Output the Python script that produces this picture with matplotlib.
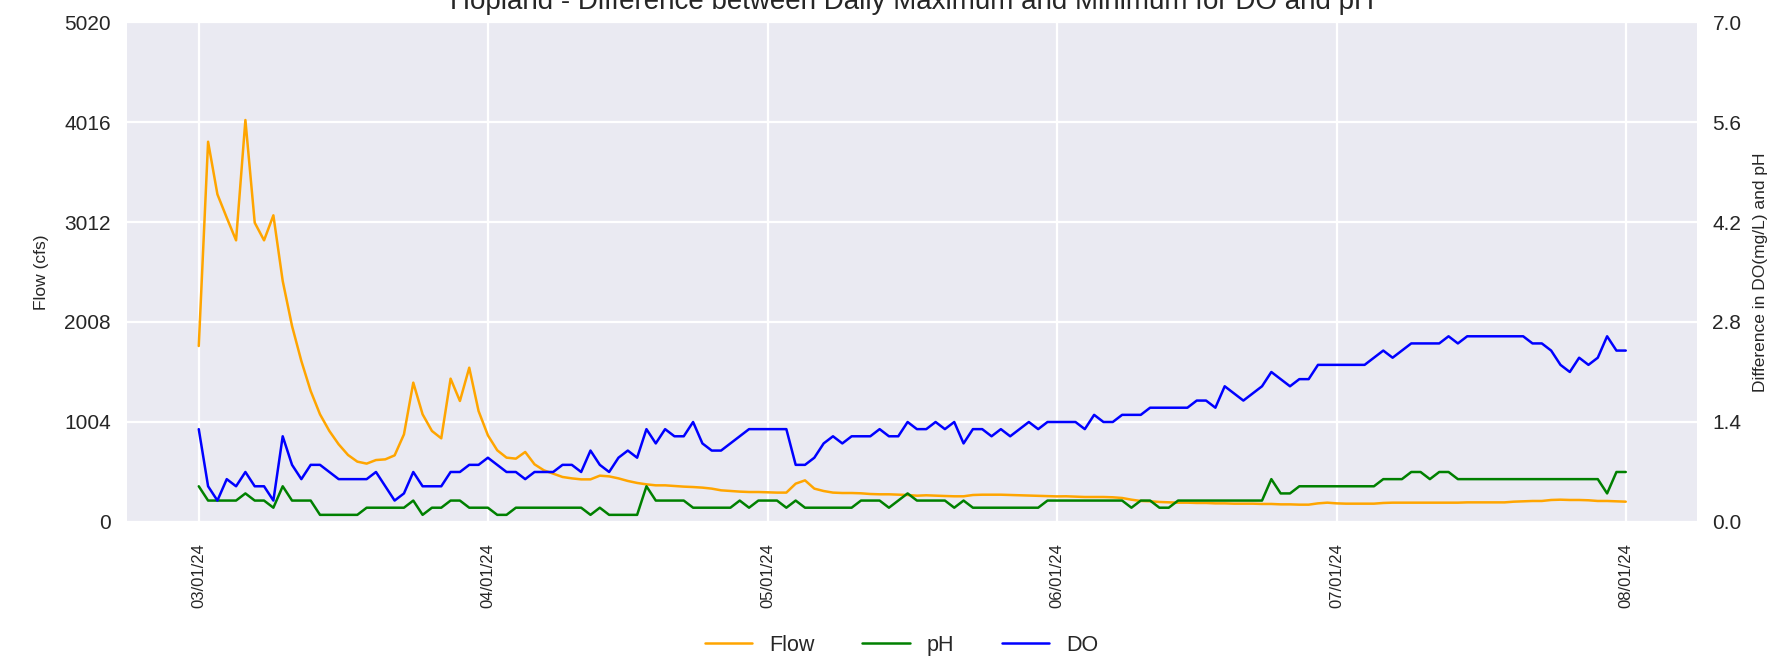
import numpy as np
import pandas as pd
import matplotlib
matplotlib.use("Agg")
import matplotlib.pyplot as plt
import matplotlib.dates as mdates

plt.style.use("seaborn-v0_8-darkgrid")
plt.rcParams["font.family"] = ["Liberation Sans", "DejaVu Sans"]
plt.rcParams["grid.linewidth"] = 1.6

# daily values, 03/01/24 .. 08/01/24
start_date = "2024-03-01"
end_date = "2024-08-01"

flow = [
    1767, 3818, 3290, 3055, 2828, 4036, 3005, 2828, 3079, 2420,
    1968, 1616, 1315, 1081, 914, 780, 673, 606, 586, 622,
    629, 669, 880, 1399, 1081, 914, 840, 1439, 1215, 1549,
    1114, 870, 720, 646, 636, 703, 579, 519, 485, 452,
    438, 428, 428, 465, 458, 438, 412, 392, 378, 368,
    368, 361, 355, 351, 345, 335, 318, 311, 305, 301,
    301, 298, 295, 295, 385, 418, 335, 311, 295, 291,
    291, 288, 281, 278, 278, 274, 271, 264, 268, 264,
    261, 258, 258, 271, 274, 274, 274, 271, 268, 264,
    261, 258, 257, 258, 254, 251, 251, 251, 248, 241,
    224, 211, 208, 201, 197, 194, 194, 191, 191, 187,
    187, 184, 184, 184, 181, 181, 177, 177, 174, 174,
    187, 194, 187, 184, 184, 184, 184, 191, 194, 194,
    194, 194, 194, 194, 194, 194, 197, 197, 197, 197,
    197, 204, 208, 211, 211, 221, 224, 221, 221, 218,
    211, 211, 208, 204,
]

ph = [
    0.5, 0.3, 0.3, 0.3, 0.3, 0.4, 0.3, 0.3, 0.2, 0.5,
    0.3, 0.3, 0.3, 0.1, 0.1, 0.1, 0.1, 0.1, 0.2, 0.2,
    0.2, 0.2, 0.2, 0.3, 0.1, 0.2, 0.2, 0.3, 0.3, 0.2,
    0.2, 0.2, 0.1, 0.1, 0.2, 0.2, 0.2, 0.2, 0.2, 0.2,
    0.2, 0.2, 0.1, 0.2, 0.1, 0.1, 0.1, 0.1, 0.5, 0.3,
    0.3, 0.3, 0.3, 0.2, 0.2, 0.2, 0.2, 0.2, 0.3, 0.2,
    0.3, 0.3, 0.3, 0.2, 0.3, 0.2, 0.2, 0.2, 0.2, 0.2,
    0.2, 0.3, 0.3, 0.3, 0.2, 0.3, 0.4, 0.3, 0.3, 0.3,
    0.3, 0.2, 0.3, 0.2, 0.2, 0.2, 0.2, 0.2, 0.2, 0.2,
    0.2, 0.3, 0.3, 0.3, 0.3, 0.3, 0.3, 0.3, 0.3, 0.3,
    0.2, 0.3, 0.3, 0.2, 0.2, 0.3, 0.3, 0.3, 0.3, 0.3,
    0.3, 0.3, 0.3, 0.3, 0.3, 0.6, 0.4, 0.4, 0.5, 0.5,
    0.5, 0.5, 0.5, 0.5, 0.5, 0.5, 0.5, 0.6, 0.6, 0.6,
    0.7, 0.7, 0.6, 0.7, 0.7, 0.6, 0.6, 0.6, 0.6, 0.6,
    0.6, 0.6, 0.6, 0.6, 0.6, 0.6, 0.6, 0.6, 0.6, 0.6,
    0.6, 0.4, 0.7, 0.7,
]

do = [
    1.3, 0.5, 0.3, 0.6, 0.5, 0.7, 0.5, 0.5, 0.3, 1.2,
    0.8, 0.6, 0.8, 0.8, 0.7, 0.6, 0.6, 0.6, 0.6, 0.7,
    0.5, 0.3, 0.4, 0.7, 0.5, 0.5, 0.5, 0.7, 0.7, 0.8,
    0.8, 0.9, 0.8, 0.7, 0.7, 0.6, 0.7, 0.7, 0.7, 0.8,
    0.8, 0.7, 1.0, 0.8, 0.7, 0.9, 1.0, 0.9, 1.3, 1.1,
    1.3, 1.2, 1.2, 1.4, 1.1, 1.0, 1.0, 1.1, 1.2, 1.3,
    1.3, 1.3, 1.3, 1.3, 0.8, 0.8, 0.9, 1.1, 1.2, 1.1,
    1.2, 1.2, 1.2, 1.3, 1.2, 1.2, 1.4, 1.3, 1.3, 1.4,
    1.3, 1.4, 1.1, 1.3, 1.3, 1.2, 1.3, 1.2, 1.3, 1.4,
    1.3, 1.4, 1.4, 1.4, 1.4, 1.3, 1.5, 1.4, 1.4, 1.5,
    1.5, 1.5, 1.6, 1.6, 1.6, 1.6, 1.6, 1.7, 1.7, 1.6,
    1.9, 1.8, 1.7, 1.8, 1.9, 2.1, 2.0, 1.9, 2.0, 2.0,
    2.2, 2.2, 2.2, 2.2, 2.2, 2.2, 2.3, 2.4, 2.3, 2.4,
    2.5, 2.5, 2.5, 2.5, 2.6, 2.5, 2.6, 2.6, 2.6, 2.6,
    2.6, 2.6, 2.6, 2.5, 2.5, 2.4, 2.2, 2.1, 2.3, 2.2,
    2.3, 2.6, 2.4, 2.4,
]

dates = pd.date_range(start_date, end_date, freq="D")

fig, ax1 = plt.subplots(figsize=(17.87, 6.61), dpi=100)
fig.subplots_adjust(left=0.0713, right=0.9497, bottom=0.2103, top=0.9667)

l1, = ax1.plot(dates, flow, color="orange", linewidth=1.8, label="Flow")
ax1.set_ylim(0, 5020)
ax1.set_yticks(np.linspace(0, 5020, 6))
ax1.set_ylabel("Flow (cfs)", fontsize=12.5)
ax1.yaxis.set_label_coords(-0.0500, 0.5)

ax2 = ax1.twinx()
l2, = ax2.plot(dates, ph, color="green", linewidth=1.8, label="pH")
l3, = ax2.plot(dates, do, color="blue", linewidth=1.8, label="DO")
ax2.set_ylim(0, 7)
ax2.set_yticks(np.linspace(0, 7, 6))
ax2.yaxis.set_major_formatter(plt.FormatStrFormatter("%.1f"))
ax2.grid(False)
ax2.set_ylabel("Difference in DO(mg/L) and pH", fontsize=12.5)
ax2.yaxis.set_label_coords(1.0357, 0.5)

ax1.xaxis.set_major_locator(mdates.MonthLocator())
ax1.xaxis.set_major_formatter(mdates.DateFormatter("%m/%d/%y"))
ax1.tick_params(axis="x", labelrotation=90, labelsize=12, pad=15, length=0)
ax1.tick_params(axis="y", labelsize=15, pad=12, length=0)
ax2.tick_params(axis="y", labelsize=15, pad=11, length=0)

ax1.set_title("Hopland - Difference between Daily Maximum and Minimum for DO and pH",
              fontsize=20, pad=9.7)

fig.legend(handles=[l1, l2, l3], loc="center", bbox_to_anchor=(0.5046, 0.024),
           ncol=3, frameon=False, fontsize=15.5, handlelength=2.2,
           columnspacing=2.2)

fig.savefig("out.png", dpi=100)
